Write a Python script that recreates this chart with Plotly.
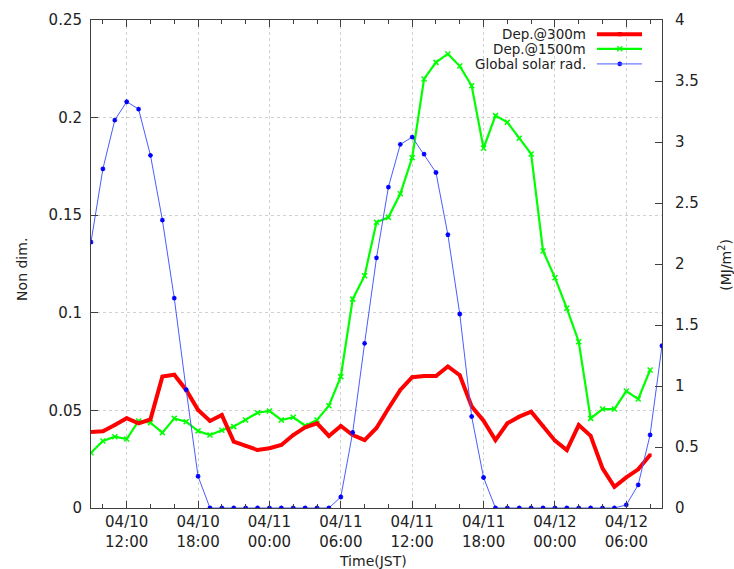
import pandas as pd
import plotly.graph_objects as go

# hourly time stamps, 04/10 09:00 JST onward
start_time = "2010-04-10 09:00"
times_rad = pd.date_range(start_time, periods=49, freq="h")
times_dep = times_rad[:48]

dep300 = [0.0389, 0.0393, 0.0425, 0.0460, 0.0434, 0.0454, 0.0673, 0.0683, 0.0605, 0.0502,
          0.0446, 0.0476, 0.0340, 0.0318, 0.0297, 0.0306, 0.0323, 0.0374, 0.0413, 0.0434,
          0.0369, 0.0420, 0.0374, 0.0348, 0.0410, 0.0510, 0.0605, 0.0670, 0.0676, 0.0676,
          0.0725, 0.0680, 0.0520, 0.0447, 0.0348, 0.0434, 0.0468, 0.0493, 0.0420, 0.0345,
          0.0297, 0.0425, 0.0370, 0.0203, 0.0109, 0.0157, 0.0198, 0.0272]

dep1500 = [0.0283, 0.0343, 0.0365, 0.0353, 0.0446, 0.0437, 0.0386, 0.0459, 0.0442, 0.0394,
           0.0374, 0.0398, 0.0417, 0.0451, 0.0488, 0.0497, 0.0451, 0.0465, 0.0422, 0.0451,
           0.0524, 0.0673, 0.1070, 0.1190, 0.1464, 0.1489, 0.1610, 0.1795, 0.2198, 0.2283,
           0.2326, 0.2264, 0.2163, 0.1843, 0.2010, 0.1976, 0.1894, 0.1814, 0.1317, 0.1180,
           0.1023, 0.0852, 0.0459, 0.0507, 0.0507, 0.0599, 0.0558, 0.0707]

solar_rad = [2.18, 2.78, 3.18, 3.33, 3.27, 2.89, 2.36, 1.72, 0.97, 0.26,
             0.0, 0.0, 0.0, 0.0, 0.0, 0.0, 0.0, 0.0, 0.0, 0.0, 0.0,
             0.09, 0.62, 1.35, 2.05, 2.63, 2.98, 3.04, 2.90, 2.75, 2.24, 1.59, 0.75, 0.25,
             0.0, 0.0, 0.0, 0.0, 0.0, 0.0, 0.0, 0.0, 0.0, 0.0, 0.0,
             0.025, 0.19, 0.60, 1.33]

tick_vals = ["2010-04-10 12:00", "2010-04-10 18:00", "2010-04-11 00:00", "2010-04-11 06:00",
             "2010-04-11 12:00", "2010-04-11 18:00", "2010-04-12 00:00", "2010-04-12 06:00"]
tick_text = ["04/10<br>12:00", "04/10<br>18:00", "04/11<br>00:00", "04/11<br>06:00",
             "04/11<br>12:00", "04/11<br>18:00", "04/12<br>00:00", "04/12<br>06:00"]

series_names = ["Dep.@300m", "Dep.@1500m", "Global solar rad."]
colors = ["#ff0000", "#00ff00", "#0000ff"]
line_colors = ["#ff0000", "#00ff00", "#4a5cff"]

FONT = "DejaVu Sans"
TXT = "#222222"
AX = "#404040"
GRID = "#d0d0d0"

fig = go.Figure()
fig.add_trace(go.Scatter(x=times_rad, y=solar_rad, mode="lines+markers", yaxis="y2",
                         line=dict(color=line_colors[2], width=1),
                         marker=dict(symbol="asterisk", size=4, color=colors[2],
                                     line=dict(color=colors[2], width=1.3)),
                         name=series_names[2], showlegend=False))
fig.add_trace(go.Scatter(x=times_dep, y=dep1500, mode="lines+markers",
                         line=dict(color=colors[1], width=2.2),
                         marker=dict(symbol="x-thin", size=5, color=colors[1],
                                     line=dict(color=colors[1], width=1.5)),
                         name=series_names[1], showlegend=False))
fig.add_trace(go.Scatter(x=times_dep, y=dep300, mode="lines+markers",
                         line=dict(color=colors[0], width=4),
                         marker=dict(symbol="square", size=3, color=colors[0]),
                         name=series_names[0], showlegend=False))

# gnuplot-style legend (text left of sample)
leg_y = [0.971, 0.941, 0.910]
leg_w = [4, 2.2, 1]
leg_sym = ["square", "x-thin", "asterisk"]
leg_size = [3, 5, 4]
for i in range(3):
    fig.add_shape(type="line", xref="paper", yref="paper", x0=0.886, x1=0.965,
                  y0=leg_y[i], y1=leg_y[i], line=dict(color=line_colors[i], width=leg_w[i]))
    fig.add_annotation(xref="paper", yref="paper", x=0.870, y=leg_y[i], text=series_names[i],
                       showarrow=False, xanchor="right", yanchor="middle",
                       font=dict(family=FONT, size=13.5, color=TXT))
    fig.add_trace(go.Scatter(x=[0.926], y=[leg_y[i]], xaxis="x3", yaxis="y3", mode="markers",
                             marker=dict(symbol=leg_sym[i], size=leg_size[i], color=colors[i],
                                         line=dict(color=colors[i], width=1.3)),
                             showlegend=False, hoverinfo="skip"))

# axis titles
fig.add_annotation(xref="paper", yref="paper", x=0.494, y=-0.1086, text="Time(JST)",
                   showarrow=False, xanchor="center", yanchor="middle",
                   font=dict(family=FONT, size=14, color=TXT))
fig.add_annotation(xref="paper", yref="paper", x=-0.1208, y=0.488, text="Non dim.",
                   showarrow=False, textangle=-90, xanchor="center", yanchor="middle",
                   font=dict(family=FONT, size=14, color=TXT))
fig.add_annotation(xref="paper", yref="paper", x=1.110, y=0.498, text="(MJ/m<sup>2</sup>)",
                   showarrow=False, textangle=-90, xanchor="center", yanchor="middle",
                   font=dict(family=FONT, size=14, color=TXT))

fig.update_layout(
    width=734, height=569,
    margin=dict(l=91, r=72, t=20, b=61, autoexpand=False),
    plot_bgcolor="white", paper_bgcolor="white",
    font=dict(family=FONT, size=15, color=TXT),
    showlegend=False,
    xaxis=dict(range=["2010-04-10 09:00", "2010-04-12 09:00"], tickvals=tick_vals, ticktext=tick_text,
               ticks="inside", ticklen=7, tickcolor=AX, showline=True, linecolor=AX, linewidth=1,
               mirror="ticks", showgrid=True, gridcolor=GRID, griddash="dot", gridwidth=1,
               minor=dict(dtick=2 * 3600 * 1000, tick0="2010-04-10 10:00", ticks="inside",
                          ticklen=4, tickcolor=AX, showgrid=False),
               zeroline=False, automargin=False),
    yaxis=dict(range=[0, 0.25], dtick=0.05, tickformat="~g", ticks="inside", ticklen=7, tickcolor=AX,
               showline=True, linecolor=AX, linewidth=1, showgrid=True, gridcolor=GRID,
               griddash="dot", zeroline=False, automargin=False, ticklabelstandoff=5),
    yaxis2=dict(range=[0, 4], dtick=0.5, tickformat="~g", overlaying="y", side="right", ticks="inside",
                ticklen=7, tickcolor=AX, showline=True, linecolor=AX, linewidth=1, showgrid=False,
                zeroline=False, automargin=False, ticklabelstandoff=9),
    xaxis3=dict(range=[0, 1], overlaying="x", visible=False, automargin=False),
    yaxis3=dict(range=[0, 1], overlaying="y", visible=False, automargin=False),
)

fig.write_html("out.html", config={"displayModeBar": False},
               post_script="document.body.style.margin='0';")
